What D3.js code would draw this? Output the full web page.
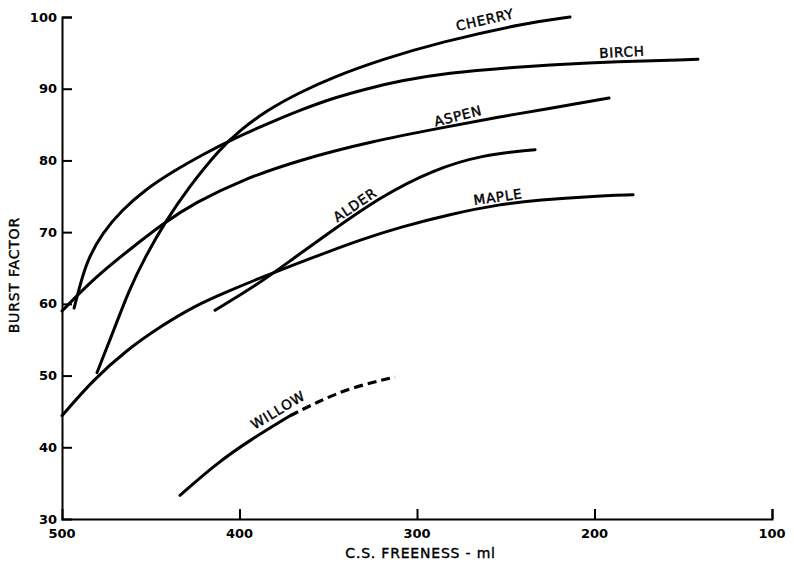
<!DOCTYPE html>
<html>
<head>
<meta charset="utf-8">
<script src="https://cdn.jsdelivr.net/npm/d3@7"></script>
<style>
  body { margin: 0; background: #fff; }
  svg { display: block; }
  text { font-family: "DejaVu Sans", "Liberation Sans", sans-serif; fill: #000; }
  .tick-label { font-size: 13px; font-weight: bold; }
  .curve-label { font-size: 13.5px; letter-spacing: 0.8px; stroke: #000; stroke-width: 0.45px; }
  .axis-title { font-size: 14px; letter-spacing: 0.8px; stroke: #000; stroke-width: 0.4px; }
</style>
</head>
<body>
<div id="chart"></div>
<script>
// freeness (ml) / burst factor pairs
var cherry = [[480.3, 50.4], [470.7, 56.4], [462.3, 61.9], [453.2, 66.5], [442.0, 71.4], [428.5, 76.3],
    [411.5, 81.5], [399.7, 84.2], [384.5, 87.0], [365.9, 89.5], [347.3, 91.6], [320.8, 94.0],
    [287.0, 96.5], [238.0, 99.2], [213.8, 100.0]];
var birch = [[493.2, 59.4], [488.7, 63.7], [484.8, 66.5], [477.5, 69.8], [466.2, 73.1], [453.2, 75.9],
    [438.0, 78.4], [419.4, 81.0], [403.7, 83.0], [384.5, 85.1], [365.9, 87.0], [347.3, 88.7],
    [328.2, 90.0], [309.6, 91.1], [283.1, 92.2], [245.9, 93.0], [208.2, 93.6], [141.7, 94.1]];
var aspen = [[500, 59.0], [481.4, 63.7], [462.3, 67.5], [442.0, 71.4], [425.1, 74.1], [398.6, 77.3],
    [365.9, 80.1], [324.8, 82.7], [287.0, 84.5], [253.2, 86.1], [230.7, 87.0], [191.8, 88.7]];
var maple = [[500, 44.4], [482.5, 49.4], [463.4, 53.6], [444.8, 56.8], [426.2, 59.6], [407.0, 61.7],
    [388.5, 63.6], [369.9, 65.4], [350.7, 67.2], [332.1, 68.9], [309.6, 70.7], [281.4, 72.5],
    [253.2, 73.9], [230.7, 74.5], [202.5, 75.0], [178.3, 75.2]];
var alder = [[413.8, 59.1], [388.5, 62.9], [369.9, 66.3], [347.3, 70.3], [320.8, 74.9], [291.0, 78.7],
    [262.8, 80.8], [233.5, 81.5]];
var willowSolid = [[433.5, 33.3], [412.7, 37.8], [394.1, 41.0], [371.5, 44.4]];
var willowDashed = [[371.5, 44.4], [356.3, 46.3], [337.7, 48.3], [312.4, 49.8]];

// label anchor (freeness, burst factor) and slant
var labelNames = ["CHERRY", "BIRCH", "ASPEN", "ALDER", "MAPLE", "WILLOW"];
var labelAt = [[261.7, 99.6], [184.5, 95.1], [276.9, 86.2], [334.9, 73.8], [254.4, 74.9], [378.3, 45.2]];
var labelAngle = [-13, -3, -14, -34, -8, -31];

var xTicks = [500, 400, 300, 200, 100];
var yTicks = [30, 40, 50, 60, 70, 80, 90, 100];

var width = 794, height = 571;
var margin = { top: 17, right: 22, bottom: 52, left: 62 };

var svg = d3.select('#chart').append('svg')
    .attr('width', width)
    .attr('height', height);

var x = d3.scaleLinear()
    .domain([500, 100])
    .range([margin.left, width - margin.right]);
var y = d3.scaleLinear()
    .domain([30, 100])
    .range([height - margin.bottom, margin.top]);

// axes, ticks pointing inward like the original
var xAxis = svg.append('g')
    .attr('transform', 'translate(0,' + y(30) + ')')
    .call(d3.axisTop(x).tickValues(xTicks).tickSize(10).tickFormat(''));
var yAxis = svg.append('g')
    .attr('transform', 'translate(' + x(500) + ',0)')
    .call(d3.axisRight(y).tickValues(yTicks).tickSize(10).tickFormat(''));
[xAxis, yAxis].forEach(function (g) {
    g.select('.domain').attr('stroke', '#000').attr('stroke-width', 2);
    g.selectAll('.tick line').attr('stroke', '#000').attr('stroke-width', 2);
});
// corner ticks would sit on the other axis
yAxis.selectAll('.tick').filter(function (d) { return d == 30; }).select('line').remove();
xAxis.selectAll('.tick').filter(function (d) { return d == 500; }).select('line').remove();

svg.selectAll('.x-label')
    .data(xTicks)
    .enter().append('text')
    .attr('class', 'tick-label')
    .attr('x', function (d) { return x(d); })
    .attr('y', y(30) + 19)
    .attr('text-anchor', 'middle')
    .text(function (d) { return d; });

svg.selectAll('.y-label')
    .data(yTicks)
    .enter().append('text')
    .attr('class', 'tick-label')
    .attr('x', x(500) - 5)
    .attr('y', function (d) { return y(d); })
    .attr('dy', '0.35em')
    .attr('text-anchor', 'end')
    .text(function (d) { return d; });

svg.append('text')
    .attr('class', 'axis-title')
    .attr('transform', 'translate(19,' + y(64) + ') rotate(-90)')
    .attr('text-anchor', 'middle')
    .text('BURST FACTOR');
svg.append('text')
    .attr('class', 'axis-title')
    .attr('x', x(298))
    .attr('y', height - 13)
    .attr('text-anchor', 'middle')
    .text('C.S. FREENESS - ml');

var line = d3.line()
    .x(function (d) { return x(d[0]); })
    .y(function (d) { return y(d[1]); })
    .curve(d3.curveBasis);

var solidSeries = [cherry, birch, aspen, maple, alder, willowSolid];
svg.append('g').selectAll('path')
    .data(solidSeries)
    .enter().append('path')
    .attr('d', line)
    .attr('fill', 'none')
    .attr('stroke', '#000')
    .attr('stroke-width', 3)
    .attr('stroke-linecap', 'round');

svg.append('path')
    .datum(willowDashed)
    .attr('d', line)
    .attr('fill', 'none')
    .attr('stroke', '#000')
    .attr('stroke-width', 3.2)
    .attr('stroke-dasharray', '9,5');

svg.selectAll('.curve-label')
    .data(labelNames)
    .enter().append('text')
    .attr('class', 'curve-label')
    .attr('text-anchor', 'middle')
    .attr('dy', '0.35em')
    .attr('transform', function (d, i) {
        return 'translate(' + x(labelAt[i][0]) + ',' + y(labelAt[i][1]) + ') rotate(' + labelAngle[i] + ')';
    })
    .text(function (d) { return d; });
</script>
</body>
</html>
